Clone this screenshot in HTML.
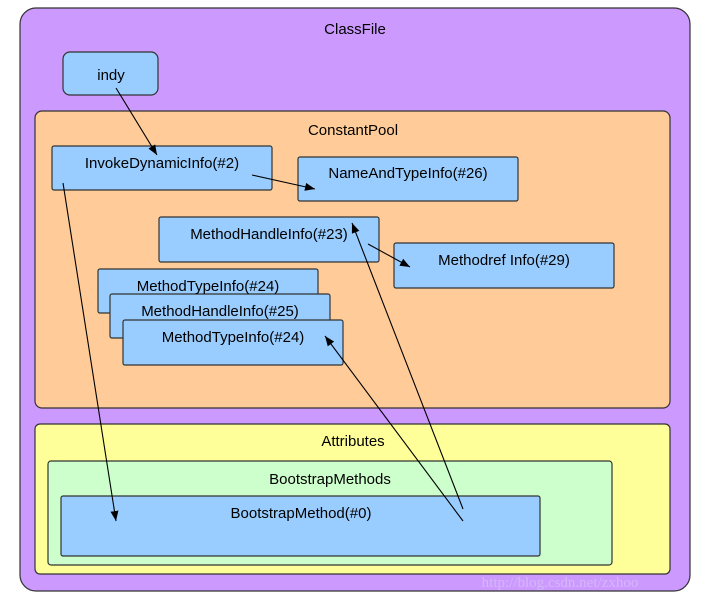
<!DOCTYPE html>
<html><head><style>body{margin:0;background:#fff}svg{display:block}text{font-family:"Liberation Sans",sans-serif;font-size:15px;fill:#000;text-anchor:middle}</style></head>
<body>
<svg width="714" height="601" viewBox="0 0 714 601">
<defs><marker id="a" markerWidth="10" markerHeight="8" refX="10" refY="4" orient="auto" markerUnits="userSpaceOnUse"><path d="M0,0L10,4L0,8z" fill="#000"/></marker></defs>
<g stroke="#333" stroke-width="1.2">
<rect x="20" y="8" width="670" height="583" rx="16" fill="#cc99ff"/>
<rect x="63" y="52" width="95" height="43" rx="7" fill="#99ccff"/>
<rect x="35" y="111" width="635" height="297" rx="7" fill="#ffcc99"/>
<rect x="52" y="146" width="220" height="44" rx="2" fill="#99ccff"/>
<rect x="298" y="157" width="220" height="44" rx="2" fill="#99ccff"/>
<rect x="159" y="217" width="220" height="45" rx="2" fill="#99ccff"/>
<rect x="394" y="243" width="220" height="45" rx="2" fill="#99ccff"/>
<rect x="98" y="269" width="220" height="44" rx="2" fill="#99ccff"/>
<rect x="110" y="294" width="220" height="44" rx="2" fill="#99ccff"/>
<rect x="123" y="320" width="220" height="45" rx="2" fill="#99ccff"/>
<rect x="35" y="424" width="635" height="150" rx="5" fill="#ffff99"/>
<rect x="48" y="461" width="564" height="104" rx="3" fill="#ccffcc"/>
<rect x="61" y="496" width="479" height="60" rx="2" fill="#99ccff"/>
</g>
<text x="355" y="34">ClassFile</text>
<text x="111" y="80">indy</text>
<text x="353" y="135">ConstantPool</text>
<text x="162" y="168">InvokeDynamicInfo(#2)</text>
<text x="408" y="178">NameAndTypeInfo(#26)</text>
<text x="269" y="239">MethodHandleInfo(#23)</text>
<text x="504" y="265">Methodref Info(#29)</text>
<text x="208" y="291">MethodTypeInfo(#24)</text>
<text x="220" y="316">MethodHandleInfo(#25)</text>
<text x="233" y="342">MethodTypeInfo(#24)</text>
<text x="353" y="446">Attributes</text>
<text x="330" y="484">BootstrapMethods</text>
<text x="301" y="518">BootstrapMethod(#0)</text>
<g stroke="#000" stroke-width="1.1" fill="none" marker-end="url(#a)">
<line x1="116" y1="88" x2="157" y2="155"/>
<line x1="252" y1="175" x2="315" y2="189"/>
<line x1="63" y1="183" x2="116" y2="521"/>
<line x1="463" y1="509" x2="352" y2="223"/>
<line x1="463" y1="521" x2="325" y2="336"/>
<line x1="368" y1="244" x2="410" y2="267"/>
</g>
<text x="560" y="587" style="font-family:'Liberation Serif',serif;font-size:15px;fill:#ddccf5;opacity:.6">http://blog.csdn.net/zxhoo</text>
</svg>
</body></html>
